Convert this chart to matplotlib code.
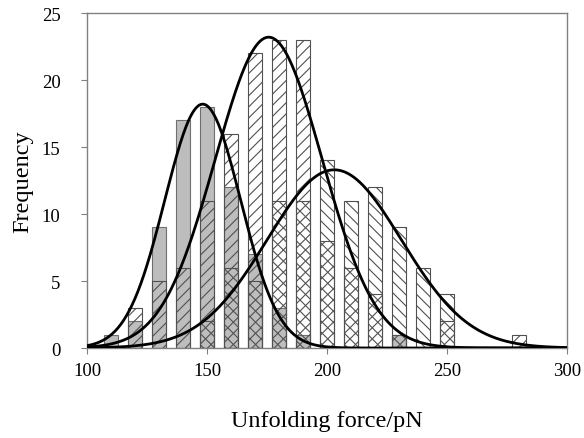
import numpy as np
import matplotlib
matplotlib.use("Agg")
import matplotlib.pyplot as plt

plt.rcParams['font.family'] = ['Liberation Serif', 'DejaVu Serif']
plt.rcParams['hatch.linewidth'] = 0.8

# bin centres (pN) and counts of the three populations
force = [110, 120, 130, 140, 150, 160, 170, 180, 190, 200, 210, 220, 230, 240, 250, 260, 270, 280]
count_gray = [1, 2, 9, 17, 18, 12, 7, 3, 1, 0, 0, 0, 1, 0, 0, 0, 0, 0]
count_fwd = [0, 3, 5, 6, 11, 16, 22, 23, 23, 8, 6, 4, 1, 0, 2, 0, 0, 1]
count_back = [0, 0, 0, 0, 2, 6, 5, 11, 11, 14, 11, 12, 9, 6, 4, 0, 0, 0]

# gaussian fits: (peak height, centre, sigma)
fit_gray = (18.2, 148.2, 15.8)
fit_fwd = (23.2, 175.7, 22.3)
fit_back = (13.3, 203.0, 28.0)

fig = plt.figure(figsize=(5.84, 4.39), dpi=100)
ax = fig.add_axes([0.149, 0.205, 0.822, 0.763])

force = np.array(force)
w = 6

def nonzero(vals):
    vals = np.array(vals)
    m = vals > 0
    return force[m], vals[m]

x, h = nonzero(count_gray)
ax.bar(x, h, width=w, color='#bdbdbd', edgecolor='#707070', linewidth=0.8, zorder=1)
x, h = nonzero(count_fwd)
ax.bar(x, h, width=w, facecolor='none', edgecolor='#505050', hatch='///', linewidth=0.8, zorder=2)
x, h = nonzero(count_back)
ax.bar(x, h, width=w, facecolor='none', edgecolor='#505050', hatch='\\\\\\', linewidth=0.8, zorder=3)

xs = np.linspace(100, 300, 500)
for a, mu, s in (fit_gray, fit_fwd, fit_back):
    ax.plot(xs, a * np.exp(-(xs - mu) ** 2 / (2 * s ** 2)), color='black', lw=2.0, zorder=5)

ax.set_xlim(100, 300)
ax.set_ylim(0, 25)
ax.set_xticks([100, 150, 200, 250, 300])
ax.set_yticks([0, 5, 10, 15, 20, 25])
for sp in ax.spines.values():
    sp.set_color('#808080')
    sp.set_linewidth(1.0)
ax.tick_params(direction='out', length=4, color='#808080', labelsize=13.5)
ax.tick_params(axis='y', pad=15)
ax.tick_params(axis='x', pad=6)
ax.set_xlabel('Unfolding force/pN', fontsize=17.5)
ax.set_ylabel('Frequency', fontsize=17.5)
ax.xaxis.set_label_coords(0.5, -0.185)
ax.yaxis.set_label_coords(-0.112, 0.5)

fig.savefig('out.png', dpi=100)
